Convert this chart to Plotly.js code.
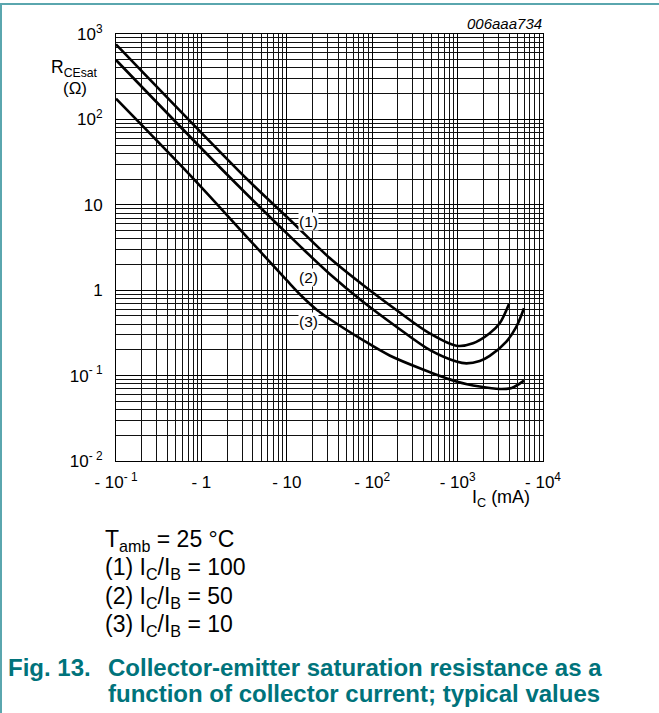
<!DOCTYPE html>
<html><head><meta charset="utf-8">
<script src="https://cdn.plot.ly/plotly-3.0.1.min.js"></script>
<style>html,body{margin:0;padding:0;background:#fff;}#chart{width:659px;height:713px;}</style>
</head><body><div id="chart"></div>
<script>
// ---- data ----
const ic1 = [0.1, 3.51, 11.8, 31.8, 78, 192, 471, 968, 1515, 2376, 3112, 3998];
const r1  = [757, 19.5, 6.17, 2.38, 1.15, 0.586, 0.313, 0.224, 0.239, 0.313, 0.410, 0.690];
const ic2 = [0.1, 2.15, 14.2, 31.8, 78, 192, 471, 968, 1268, 1815, 2376, 3727, 4881, 5991];
const r2  = [496, 21.0, 3.30, 1.55, 0.733, 0.374, 0.200, 0.146, 0.139, 0.148, 0.170, 0.250, 0.374, 0.614];
const ic3 = [0.1, 0.835, 3.68, 9.89, 15, 22, 31.8, 78, 160, 393, 968, 1815, 3112, 4300, 5991];
const r3  = [175, 19.5, 3.87, 1.32, 0.85, 0.60, 0.46, 0.26, 0.172, 0.118, 0.0855, 0.0745, 0.0697, 0.0716, 0.0872];

const xTickVals = [0.1, 1, 10, 100, 1000, 10000];
const xTickText = ['- 10<sup>- 1</sup>', '- 1', '- 10', '- 10<sup>2</sup>', '- 10<sup>3</sup>', '- 10<sup>4</sup>'];
const yTickVals = [0.01, 0.1, 1, 10, 100, 1000];
const yTickText = ['10<sup>- 2</sup>', '10<sup>- 1</sup>', '1', '10', '10<sup>2</sup>', '10<sup>3</sup>'];
const curveLabels = ['(1)', '(2)', '(3)'];
const noteLines = ['T<sub>amb</sub> = 25 °C', '(1) I<sub>C</sub>/I<sub>B</sub> = 100', '(2) I<sub>C</sub>/I<sub>B</sub> = 50', '(3) I<sub>C</sub>/I<sub>B</sub> = 10'];
const captionNum = 'Fig. 13.';
const captionLines = ['Collector-emitter saturation resistance as a', 'function of collector current; typical values'];
const yTitle = ['R<sub>CEsat</sub>', '(Ω)'];
const xTitle = 'I<sub>C</sub> (mA)';
const figId = '006aaa734';

// ---- layout helpers ----
const W = 659, H = 713, ML = 116, MT = 34, PW = 427, PH = 427;
const px = x => (x - ML) / PW;
const py = y => (MT + PH - y) / PH;
const FONT = 'Liberation Sans, Arial, Helvetica, sans-serif';
const TEAL = '#00737b';

const lineStyle = {color: '#000', width: 2.6, shape: 'spline', smoothing: 0.9};
const traces = [
  {x: ic1, y: r1, mode: 'lines', line: lineStyle, hoverinfo: 'skip'},
  {x: ic2, y: r2, mode: 'lines', line: lineStyle, hoverinfo: 'skip'},
  {x: ic3, y: r3, mode: 'lines', line: lineStyle, hoverinfo: 'skip'}
];

const axisCommon = {
  type: 'log', showline: true, linecolor: '#000', linewidth: 1, mirror: true,
  ticks: '', zeroline: false, fixedrange: true, tickmode: 'array',
  tickfont: {family: FONT, size: 17, color: '#000'},
  showgrid: true, gridcolor: '#000', gridwidth: 1,
  minor: {dtick: 'D1', showgrid: true, gridcolor: '#111', gridwidth: 1, ticks: ''}
};

const labelPos = [[1.2506, 0.8103], [1.2506, 0.1464], [1.2506, -0.3607]];
const annotations = [];
curveLabels.forEach((t, i) => annotations.push({
  text: t, xref: 'x', yref: 'y', x: labelPos[i][0], y: labelPos[i][1], showarrow: false,
  font: {family: FONT, size: 15.5, color: '#000'}, bgcolor: '#fff', borderpad: 0
}));
annotations.push({text: yTitle[0], xref: 'paper', yref: 'paper', x: px(74), y: py(68), xanchor: 'center', yanchor: 'middle', showarrow: false, font: {family: FONT, size: 17.5, color: '#000'}});
annotations.push({text: yTitle[1], xref: 'paper', yref: 'paper', x: px(75), y: py(88), xanchor: 'center', yanchor: 'middle', showarrow: false, font: {family: FONT, size: 17, color: '#000'}});
annotations.push({text: figId, xref: 'paper', yref: 'paper', x: px(544), y: py(24), xanchor: 'right', yanchor: 'middle', showarrow: false, font: {family: FONT, size: 15, color: '#000', style: 'italic'}});
annotations.push({text: xTitle, xref: 'paper', yref: 'paper', x: px(501), y: py(498), xanchor: 'center', yanchor: 'middle', showarrow: false, font: {family: FONT, size: 18, color: '#000'}});
noteLines.forEach((t, i) => annotations.push({
  text: t, xref: 'paper', yref: 'paper', x: px(103), y: py(540 + i * 28.5), xanchor: 'left', yanchor: 'middle', showarrow: false,
  font: {family: FONT, size: 23, color: '#000'}
}));
annotations.push({text: '<b>' + captionNum + '</b>', xref: 'paper', yref: 'paper', x: px(6), y: py(667), xanchor: 'left', yanchor: 'middle', showarrow: false, font: {family: FONT, size: 24, color: TEAL}});
captionLines.forEach((t, i) => annotations.push({
  text: '<b>' + t + '</b>', xref: 'paper', yref: 'paper', x: px(106), y: py(667 + i * 26.5), xanchor: 'left', yanchor: 'middle', showarrow: false,
  font: {family: FONT, size: 24, color: TEAL}
}));

const shapes = [
  {type: 'line', xref: 'paper', yref: 'paper', x0: px(0), x1: px(W), y0: py(4), y1: py(4), line: {color: '#5aa6ae', width: 2}},
  {type: 'line', xref: 'paper', yref: 'paper', x0: px(1), x1: px(1), y0: py(4), y1: py(H), line: {color: '#5aa6ae', width: 2}}
];

const layout = {
  width: W, height: H, autosize: false,
  margin: {l: ML, r: W - ML - PW, t: MT, b: H - MT - PH, pad: 0},
  paper_bgcolor: '#fff', plot_bgcolor: '#fff', showlegend: false,
  font: {family: FONT, color: '#000'},
  xaxis: {...axisCommon, range: [-1, 4], tickvals: xTickVals, ticktext: xTickText, ticklabelstandoff: 6},
  yaxis: {...axisCommon, range: [-2, 3], tickvals: yTickVals, ticktext: yTickText, ticklabelstandoff: 9},
  annotations: annotations,
  shapes: shapes
};

Plotly.newPlot('chart', traces, layout, {staticPlot: true, displayModeBar: false});
</script>
</body></html>
